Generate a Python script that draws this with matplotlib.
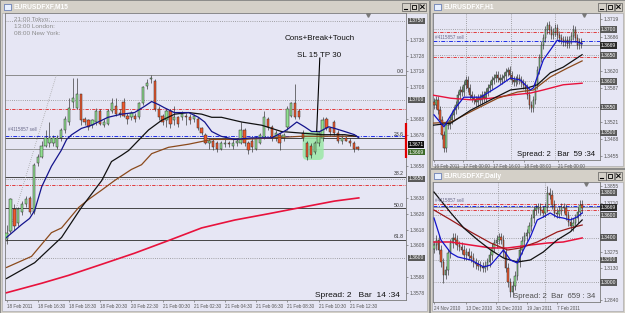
import numpy as np
import matplotlib
matplotlib.use('Agg')
import matplotlib.pyplot as plt
import matplotlib.transforms as mtrans
from matplotlib.patches import Rectangle, FancyBboxPatch
from matplotlib.colors import LinearSegmentedColormap

plt.rcParams['font.family'] = ['Liberation Sans', 'DejaVu Sans']

# ===================== DATA =====================
# ---- M15 chart (main window) ----
m15_open = [1.3612,1.3617,1.3631,1.3622,1.3629,1.3634,1.3638,1.3629,1.3660,1.3664,
            1.3671,1.3673,1.3673,1.3670,1.3676,1.3681,1.3686,1.3699,1.3695,1.3704,
            1.3688,1.3687,1.3684,1.3686,1.3693,1.3684,1.3685,1.3693,1.3696,1.3692,
            1.3699,1.3690,1.3689,1.3690,1.3689,1.3698,1.3709,1.3713,1.3712,1.3694,
            1.3690,1.3687,1.3693,1.3687,1.3689,1.3689,1.3690,1.3689,1.3688,1.3688,
            1.3682,1.3678,1.3673,1.3674,1.3673,1.3669,1.3672,1.3673,1.3671,1.3673,
            1.3673,1.3681,1.3673,1.3674,1.3669,1.3673,1.3676,1.3688,1.3683,1.3676,
            1.3678,1.3676,1.3683,1.3690,1.3698,1.3693,1.3679,1.3673,1.3671,1.3667,
            1.3673,1.3676,1.3688,1.3682,1.3686,1.3679,1.3674,1.3676,1.3674,1.3673,
            1.3670]
m15_high = [1.3621,1.3638,1.3634,1.3632,1.3636,1.3639,1.3639,1.3660,1.3666,1.3674,
            1.3681,1.3686,1.3678,1.3678,1.3682,1.3690,1.3701,1.3714,1.3714,1.3704,
            1.3689,1.3688,1.3688,1.3695,1.3694,1.3688,1.3694,1.3701,1.3701,1.3694,
            1.3701,1.3692,1.3693,1.3692,1.3699,1.3709,1.3713,1.3716,1.3713,1.3696,
            1.3691,1.3694,1.3694,1.3696,1.3690,1.3693,1.3692,1.3691,1.3691,1.3689,
            1.3683,1.3679,1.3676,1.3676,1.3674,1.3674,1.3676,1.3674,1.3676,1.3676,
            1.3686,1.3682,1.3674,1.3676,1.3677,1.3679,1.3693,1.3689,1.3684,1.3681,
            1.3679,1.3679,1.3696,1.3699,1.3710,1.3694,1.3681,1.3674,1.3673,1.3674,
            1.3680,1.3689,1.3689,1.3683,1.3687,1.3681,1.3678,1.3677,1.3676,1.3674,
            1.3671]
m15_low = [1.3609,1.3616,1.3618,1.3620,1.3627,1.3632,1.3628,1.3628,1.3658,1.3663,
           1.3670,1.3670,1.3671,1.3669,1.3674,1.3679,1.3684,1.3695,1.3694,1.3684,
           1.3684,1.3681,1.3682,1.3684,1.3684,1.3683,1.3684,1.3692,1.3690,1.3689,
           1.3689,1.3685,1.3687,1.3686,1.3688,1.3697,1.3707,1.3711,1.3693,1.3687,
           1.3684,1.3683,1.3682,1.3684,1.3683,1.3687,1.3684,1.3685,1.3686,1.3681,
           1.3678,1.3672,1.3669,1.3668,1.3667,1.3668,1.3670,1.3670,1.3669,1.3671,
           1.3672,1.3671,1.3666,1.3667,1.3668,1.3672,1.3675,1.3681,1.3674,1.3674,
           1.3668,1.3674,1.3681,1.3689,1.3688,1.3688,1.3674,1.3662,1.3663,1.3666,
           1.3671,1.3674,1.3681,1.3678,1.3678,1.3673,1.3672,1.3674,1.3671,1.3667,
           1.3668]
m15_close = [1.3616,1.3637,1.3620,1.3631,1.3634,1.3637,1.3629,1.3659,1.3664,1.3671,
             1.3676,1.3676,1.3676,1.3676,1.3681,1.3688,1.3695,1.3701,1.3704,1.3687,
             1.3686,1.3683,1.3687,1.3693,1.3685,1.3686,1.3693,1.3698,1.3691,1.3691,
             1.3690,1.3688,1.3692,1.3688,1.3698,1.3708,1.3711,1.3714,1.3694,1.3689,
             1.3686,1.3693,1.3685,1.3689,1.3685,1.3691,1.3689,1.3687,1.3690,1.3682,
             1.3679,1.3673,1.3674,1.3670,1.3669,1.3673,1.3673,1.3672,1.3673,1.3674,
             1.3681,1.3673,1.3668,1.3670,1.3676,1.3678,1.3689,1.3683,1.3676,1.3679,
             1.3673,1.3678,1.3694,1.3698,1.3689,1.3689,1.3676,1.3664,1.3665,1.3673,
             1.3679,1.3687,1.3682,1.3680,1.3679,1.3674,1.3676,1.3674,1.3673,1.3669,
             1.3669]
m15_blue_idx = [0,3.8,5.9,7.2,9,11.5,14,15.4,16.7,19.2,21.8,26,29.5,32.8,35.4,37.2,39,40.5,43,46.7,
                49.2,50.8,52.6,55,58.5,62.8,68,71.8,74.4,76.4,78.2,80.3,82.6,84.1,86.7,89.2,90.3]
m15_blue = [1.3613,1.3621,1.3625,1.3630,1.3645,1.3658,1.3668,1.3675,1.3678,1.3682,
            1.3684,1.3689,1.3691,1.3692,1.3696,1.3699,1.3697,1.3695,1.3692,1.3692,
            1.3689,1.3686,1.3680,1.3677,1.3675,1.3676,1.3676,1.3681,1.3686,1.3683,
            1.3680,1.3680,1.3683,1.3682,1.3680,1.3678,1.3676]
m15_black_idx = [0,7.2,14.1,19.2,24.4,26.9,29.5,31.3,36.4,39.7,43.1,46.7,50,52.6,55.1,60.3,65.4,70.5,75.6,80.8,86.7,89.7]
m15_black = [1.3587,1.3597,1.3613,1.3632,1.3649,1.3661,1.3665,1.3668,1.3681,1.3687,1.3691,
             1.3692,1.3691,1.3689,1.3689,1.3686,1.3684,1.3680,1.3679,1.3678,1.3678,1.3677]
m15_brown_idx = [0,6.4,11.5,14.1,18.5,21,24.4,27.7,32,34.6,37.2,41.5,46.7,52.6,60.3,68,75.6,83.3,89.7]
m15_brown = [1.3594,1.3601,1.3616,1.3619,1.3632,1.3637,1.3643,1.3649,1.3656,1.3659,
             1.3666,1.3670,1.3672,1.3675,1.3675,1.3676,1.3677,1.3677,1.3677]
m15_red_idx = [0,9,15.9,24.4,32.8,41.5,50,58.5,67.2,75.6,84.1,90.3]
m15_red = [1.3578,1.3584,1.3589,1.3596,1.3603,1.3611,1.3619,1.3624,1.3628,1.3632,1.3636,1.3638]
m15_yticks = [1.3578,1.3588,1.3608,1.3618,1.3628,1.3638,1.3658,
              1.3678,1.3688,1.3708,1.3718,1.3728,1.3738]
m15_xtick_pos = [0, 8, 16, 24, 32, 40, 48, 56, 64, 72, 80, 88]
m15_xtick_lab = ['18 Feb 2011', '18 Feb 16:30', '18 Feb 18:30', '18 Feb 20:30', '20 Feb 22:30',
                 '21 Feb 00:30', '21 Feb 02:30', '21 Feb 04:30', '21 Feb 06:30', '21 Feb 08:30',
                 '21 Feb 10:30', '21 Feb 12:30']
fib_top, fib_bottom = 1.3716, 1.3547
fib_levels = [0.0, 23.6, 38.2, 50.0, 61.8]
round_levels_m15 = [1.3750, 1.3700, 1.3650, 1.3600]
red_levels = [1.3694, 1.3646]
order_price = 1.3677
bid_price = 1.3669
sessions = ['21:00 Tokyo:', '13:00 London:', '08:00 New York:']

# ---- H1 chart ----
h1_open = [1.3560,1.3554,1.3564,1.3544,1.3525,1.3496,1.3471,1.3515,1.3515,1.3525,
           1.3535,1.3544,1.3554,1.3573,1.3583,1.3579,1.3593,1.3602,1.3587,1.3573,
           1.3567,1.3564,1.3560,1.3567,1.3564,1.3573,1.3567,1.3579,1.3587,1.3593,
           1.3602,1.3606,1.3612,1.3606,1.3602,1.3606,1.3610,1.3618,1.3622,1.3612,
           1.3602,1.3598,1.3602,1.3606,1.3602,1.3597,1.3593,1.3587,1.3573,1.3554,
           1.3548,1.3564,1.3593,1.3622,1.3645,1.3670,1.3683,1.3699,1.3708,1.3699,
           1.3689,1.3695,1.3703,1.3689,1.3683,1.3679,1.3675,1.3679,1.3672,1.3679,
           1.3687,1.3699,1.3683,1.3670,1.3675]
h1_high = [1.3568,1.3572,1.3572,1.3552,1.3533,1.3504,1.3523,1.3523,1.3533,1.3543,
           1.3552,1.3562,1.3581,1.3591,1.3591,1.3601,1.3610,1.3610,1.3595,1.3581,
           1.3575,1.3572,1.3575,1.3575,1.3581,1.3581,1.3587,1.3595,1.3601,1.3610,
           1.3614,1.3620,1.3620,1.3614,1.3614,1.3618,1.3626,1.3627,1.3630,1.3620,
           1.3610,1.3610,1.3614,1.3614,1.3610,1.3605,1.3601,1.3595,1.3581,1.3562,
           1.3572,1.3601,1.3630,1.3653,1.3678,1.3691,1.3707,1.3714,1.3716,1.3707,
           1.3703,1.3711,1.3711,1.3697,1.3691,1.3687,1.3687,1.3687,1.3687,1.3695,
           1.3708,1.3707,1.3691,1.3683,1.3683]
h1_low = [1.3546,1.3546,1.3536,1.3517,1.3488,1.3463,1.3463,1.3507,1.3507,1.3517,
          1.3527,1.3536,1.3546,1.3565,1.3571,1.3571,1.3585,1.3579,1.3565,1.3559,
          1.3556,1.3552,1.3552,1.3556,1.3556,1.3559,1.3559,1.3571,1.3579,1.3585,
          1.3594,1.3598,1.3598,1.3594,1.3594,1.3598,1.3602,1.3610,1.3604,1.3594,
          1.3590,1.3590,1.3594,1.3594,1.3589,1.3585,1.3579,1.3565,1.3546,1.3540,
          1.3540,1.3556,1.3585,1.3614,1.3637,1.3662,1.3675,1.3691,1.3691,1.3681,
          1.3681,1.3687,1.3681,1.3675,1.3671,1.3667,1.3667,1.3664,1.3664,1.3671,
          1.3679,1.3675,1.3662,1.3662,1.3664]
h1_close = [1.3554,1.3564,1.3544,1.3525,1.3496,1.3471,1.3515,1.3515,1.3525,1.3535,
            1.3544,1.3554,1.3573,1.3583,1.3579,1.3593,1.3602,1.3587,1.3573,1.3567,
            1.3564,1.3560,1.3567,1.3564,1.3573,1.3567,1.3579,1.3587,1.3593,1.3602,
            1.3606,1.3612,1.3606,1.3602,1.3606,1.3610,1.3618,1.3622,1.3612,1.3602,
            1.3598,1.3602,1.3606,1.3602,1.3597,1.3593,1.3587,1.3573,1.3554,1.3548,
            1.3564,1.3593,1.3622,1.3645,1.3670,1.3683,1.3699,1.3708,1.3699,1.3689,
            1.3695,1.3703,1.3689,1.3683,1.3679,1.3675,1.3679,1.3672,1.3679,1.3687,
            1.3699,1.3683,1.3670,1.3675,1.3672]
h1_blue_idx = [0,5,10,15,23.5,32,38.5,43.5,48.5,50,55,62,65,72,74.5]
h1_blue = [1.3535,1.3512,1.3544,1.3569,1.3569,1.3589,1.3606,1.3602,1.3583,1.3587,1.3641,1.3679,1.3676,1.3676,1.3672]
h1_black_idx = [-0.5,8.5,18.5,28.5,38.5,47,52,58.5,65,74.5]
h1_black = [1.3515,1.3519,1.3544,1.3564,1.3583,1.3587,1.3593,1.3616,1.3627,1.3651]
h1_brown_idx = [-0.5,8.5,20,32,42,50,58.5,67,74.5]
h1_brown = [1.3519,1.3521,1.3544,1.3567,1.3579,1.3583,1.3608,1.3625,1.3639]
h1_red_idx = [-0.5,8.5,18.5,28.5,38.5,48.5,55,65,74.5]
h1_red = [1.3573,1.3567,1.3564,1.3567,1.3573,1.3577,1.3583,1.3593,1.3596]
h1_yticks = [1.3455,1.3488,1.3521,1.3587,1.3620,1.3686,1.3719]
h1_xtick_pos = [0, 14.5, 29.5, 45.5, 62.5]
h1_xtick_lab = ['16 Feb 2011', '17 Feb 00:00', '17 Feb 16:00', '18 Feb 08:00', '21 Feb 00:00']
round_levels_h1 = [1.3700, 1.3650, 1.3600, 1.3550, 1.3500]

# ---- Daily chart ----
d_open = [1.3300,1.3333,1.3378,1.3289,1.3182,1.3067,1.3111,1.3262,1.3351,1.3396,
          1.3378,1.3333,1.3316,1.3289,1.3244,1.3271,1.3236,1.3218,1.3182,1.3164,
          1.3147,1.3138,1.3129,1.3147,1.3182,1.3244,1.3307,1.3351,1.3378,1.3404,
          1.3378,1.3271,1.3129,1.3004,1.2915,1.2969,1.3058,1.3182,1.3289,1.3369,
          1.3413,1.3440,1.3502,1.3573,1.3644,1.3662,1.3671,1.3644,1.3618,1.3671,
          1.3796,1.3778,1.3689,1.3618,1.3609,1.3636,1.3671,1.3662,1.3600,1.3538,
          1.3502,1.3529,1.3573,1.3627,1.3689]
d_high = [1.3373,1.3418,1.3418,1.3329,1.3222,1.3151,1.3302,1.3391,1.3436,1.3436,
          1.3418,1.3373,1.3356,1.3329,1.3311,1.3311,1.3276,1.3258,1.3222,1.3204,
          1.3187,1.3178,1.3187,1.3222,1.3284,1.3347,1.3391,1.3418,1.3444,1.3444,
          1.3418,1.3311,1.3169,1.3044,1.3009,1.3098,1.3222,1.3329,1.3409,1.3453,
          1.3480,1.3542,1.3613,1.3684,1.3702,1.3711,1.3711,1.3684,1.3711,1.3858,
          1.3836,1.3818,1.3729,1.3658,1.3676,1.3711,1.3711,1.3702,1.3640,1.3578,
          1.3569,1.3613,1.3667,1.3729,1.3729]
d_low = [1.3260,1.3293,1.3249,1.3142,1.2996,1.3027,1.3071,1.3222,1.3311,1.3338,
         1.3293,1.3276,1.3249,1.3204,1.3204,1.3196,1.3178,1.3142,1.3124,1.3107,
         1.3098,1.3089,1.3089,1.3107,1.3142,1.3204,1.3267,1.3311,1.3338,1.3338,
         1.3231,1.3089,1.2964,1.2871,1.2875,1.2929,1.3018,1.3142,1.3249,1.3329,
         1.3373,1.3400,1.3462,1.3533,1.3604,1.3622,1.3604,1.3578,1.3578,1.3631,
         1.3738,1.3649,1.3578,1.3569,1.3569,1.3596,1.3622,1.3560,1.3498,1.3462,
         1.3462,1.3489,1.3533,1.3587,1.3622]
d_close = [1.3333,1.3378,1.3289,1.3182,1.3067,1.3111,1.3262,1.3351,1.3396,1.3378,
           1.3333,1.3316,1.3289,1.3244,1.3271,1.3236,1.3218,1.3182,1.3164,1.3147,
           1.3138,1.3129,1.3147,1.3182,1.3244,1.3307,1.3351,1.3378,1.3404,1.3378,
           1.3271,1.3129,1.3004,1.2915,1.2969,1.3058,1.3182,1.3289,1.3369,1.3413,
           1.3440,1.3502,1.3573,1.3644,1.3662,1.3671,1.3644,1.3618,1.3671,1.3796,
           1.3778,1.3689,1.3618,1.3609,1.3636,1.3671,1.3662,1.3600,1.3538,1.3502,
           1.3529,1.3573,1.3627,1.3689,1.3662]
d_blue_idx = [0,3,7.3,10.3,15.9,21.5,24.5,27.5,30,33,36,38.6,41.6,44.6,47.2,50.2,53.2,55.8,58.8,61.8,64]
d_blue = [1.3573,1.3378,1.3262,1.3227,1.3200,1.3138,1.3156,1.3227,1.3289,1.3200,1.3173,
          1.3289,1.3404,1.3556,1.3582,1.3618,1.3582,1.3573,1.3556,1.3582,1.3618]
d_black_idx = [0,7.3,12.9,18.9,24.5,30,36,41.6,47.2,53.2,58.8,64]
d_black = [1.3804,1.3618,1.3484,1.3378,1.3289,1.3218,1.3182,1.3200,1.3271,1.3378,1.3449,1.3556]
d_maroon_idx = [0,7.3,15.9,24.5,31.8,37.3,44.6,53.2,58.8,64]
d_maroon = [1.3644,1.3556,1.3449,1.3351,1.3289,1.3307,1.3360,1.3449,1.3484,1.3511]
d_red_idx = [0,7.3,15.9,24.5,31.8,41.6,49,55.8,64]
d_red = [1.3360,1.3360,1.3333,1.3307,1.3307,1.3333,1.3351,1.3360,1.3396]
d_yticks = [1.2840,1.3130,1.3275,1.3710,1.3855]
d_xtick_pos = [0, 13.7, 26.6, 40.3, 53.2]
d_xtick_lab = ['24 Nov 2010', '13 Dec 2010', '31 Dec 2010', '19 Jan 2011', '7 Feb 2011']
round_levels_d = [1.3800, 1.3600, 1.3400, 1.3200, 1.3000]

# ===================== FIGURE =====================
W, H = 625, 313
fig = plt.figure(figsize=(W / 100, H / 100), dpi=100)
fig.patch.set_facecolor('#d4d0c8')

PLOT_BG = '#e6e6f4'
UP, DN, EDGE = '#90e090', '#f0582c', '#2a2a2a'


def frac(x0, y0, x1, y1):
    return [x0 / W, 1 - y1 / H, (x1 - x0) / W, (y1 - y0) / H]


bg = fig.add_axes([0, 0, 1, 1])
bg.axis('off')
title_cmap = LinearSegmentedColormap.from_list('tb', ['#0a246a', '#a6caf0'])
grad = np.linspace(0, 1, 256)[None, :]


def window(x0, y0, x1, y1, title):
    bg.add_patch(Rectangle((x0, y0), x1 - x0, y1 - y0, fc='#d4d0c8', ec='#808080', lw=0.6))
    bg.add_patch(Rectangle((x0 + 2, y0 + 13), x1 - x0 - 4, y1 - y0 - 15, fc=PLOT_BG, ec='#a0a0a0', lw=0.4))
    bg.imshow(grad, extent=[x0 + 2, x1 - 2, y0 + 12, y0 + 2], aspect='auto', cmap=title_cmap)
    bg.add_patch(Rectangle((x0 + 4, y0 + 3.5), 7, 6.5, fc='#e8f0ff', ec='#3050a0', lw=0.4))
    bg.text(x0 + 14, y0 + 7.4, title, color='white', fontsize=4.8, fontweight='bold', va='center', ha='left')
    for k in range(3):
        bx = x1 - 27 + k * 8.3
        by = y0 + 3
        bg.add_patch(Rectangle((bx, by), 7.6, 7.6, fc='#d4d0c8', ec='#404040', lw=0.4))
        if k == 0:
            bg.plot([bx + 2, bx + 5], [by + 5.6, by + 5.6], color='black', lw=0.8)
        elif k == 1:
            bg.add_patch(Rectangle((bx + 1.8, by + 1.8), 4, 4, fc='none', ec='black', lw=0.6))
        else:
            bg.plot([bx + 2, bx + 5.6], [by + 2, by + 5.6], color='black', lw=0.7)
            bg.plot([bx + 2, bx + 5.6], [by + 5.6, by + 2], color='black', lw=0.7)


window(0, 0, 429, 313, 'EURUSDFXF,M15')
window(430, 0, 625, 168, 'EURUSDFXF,H1')
window(430, 169, 625, 313, 'EURUSDFXF,Daily')
bg.set_xlim(0, W)
bg.set_ylim(H, 0)


def chart_ax(x0, y0, x1, y1, xlim, ylim, yticks, xpos, xlab):
    ax = fig.add_axes(frac(x0, y0, x1, y1))
    ax.set_facecolor(PLOT_BG)
    ax.set_xlim(*xlim)
    ax.set_ylim(*ylim)
    for s in ax.spines.values():
        s.set_color('#7a7a7a')
        s.set_linewidth(0.6)
    ax.yaxis.tick_right()
    ax.tick_params(axis='both', length=1.5, width=0.4, colors='#555555', pad=1.2)
    ax.tick_params(axis='y', labelsize=3.6)
    ax.tick_params(axis='x', labelsize=3.3)
    ax.set_yticks(yticks)
    ax.set_yticklabels([f'{v:.4f}' for v in yticks])
    ax.set_xticks(xpos)
    ax.set_xticklabels(xlab, ha='left')
    return ax


def candles(ax, o, h, l, c, width):
    o, h, l, c = map(np.asarray, (o, h, l, c))
    x = np.arange(len(o))
    ax.vlines(x, l, h, color=EDGE, lw=0.45, zorder=3)
    bull = c >= o
    ax.bar(x[bull], (c - o)[bull], bottom=o[bull], width=width, color=UP, edgecolor=EDGE, lw=0.35, zorder=4)
    ax.bar(x[~bull], (o - c)[~bull], bottom=c[~bull], width=width, color=DN, edgecolor=EDGE, lw=0.35, zorder=4)


def levels(ax, rounds, vlines=()):
    for v in rounds:
        ax.axhline(v, color='#8c8c8c', lw=0.6, ls=(0, (1, 1.6)), zorder=1)
    for v in vlines:
        ax.axvline(v, color='#8c8c8c', lw=0.6, ls=(0, (1, 1.6)), zorder=1)
    for v in red_levels:
        ax.axhline(v, color='#e02020', lw=0.6, ls=(0, (4, 1.5, 1, 1.5)), zorder=2)
    ax.axhline(order_price, color='#1f2fe8', lw=0.7, ls=(0, (4, 1.5, 1, 1.5)), zorder=2)
    ax.axhline(bid_price, color='#8a8a8a', lw=0.6, zorder=2)


def boxlabel(ax, price, text, fc='#5a5a5a', tc='white'):
    tr = mtrans.blended_transform_factory(ax.transAxes, ax.transData)
    ax.text(1.006, price, text, transform=tr, ha='left', va='center', fontsize=3.6, color=tc,
            clip_on=False, zorder=10,
            bbox=dict(boxstyle='square,pad=0.18', fc=fc, ec='none'))


# ---------- main M15 chart ----------
axm = chart_ax(5, 13, 406, 300, (-0.4, 102.4), (1.35734, 1.37550), m15_yticks, m15_xtick_pos, m15_xtick_lab)
levels(axm, round_levels_m15)
for lv in fib_levels:
    p = fib_top - (fib_top - fib_bottom) * lv / 100.0
    axm.axhline(p, color='#8c8c8c' if lv == 0 else '#444444', lw=0.7, zorder=2)
    axm.text(101.9, p + 0.00004, f'{lv:.1f}', ha='right', va='bottom', fontsize=3.7, color='#303030', zorder=6)
axm.plot([-7.8, 12.8], [fib_bottom, fib_top], color='#a8a8a8', lw=0.6, ls=(0, (1, 1.5)), zorder=2)

axm.add_patch(FancyBboxPatch((75.9, 1.36620), 5.4, 0.00177,
                             boxstyle='round,pad=0,rounding_size=1.2', mutation_aspect=0.000247,
                             fc='#9be8a6', ec='none', alpha=0.85, zorder=2.5))
candles(axm, m15_open, m15_high, m15_low, m15_close, 0.6)
axm.plot(m15_red_idx, m15_red, color='#e8123c', lw=1.2, zorder=5)
axm.plot(m15_brown_idx, m15_brown, color='#8b4a1c', lw=0.9, zorder=5)
axm.plot(m15_black_idx, m15_black, color='#111111', lw=0.9, zorder=5)
axm.plot(m15_blue_idx, m15_blue, color='#14148c', lw=0.9, zorder=5)

axm.plot([80.3, 79.5], [1.37265, 1.3680], color='black', lw=0.8, zorder=6)
axm.text(80.2, 1.37391, 'Cons+Break+Touch', ha='center', va='center', fontsize=5.8, color='#101010', zorder=6)
axm.text(80.2, 1.37284, 'SL 15 TP 30', ha='center', va='center', fontsize=5.8, color='#101010', zorder=6)
for k, s in enumerate(sessions):
    axm.text(1.8, 1.37506 - k * 0.00044, s, ha='left', va='center', fontsize=4.6, color='#8c8c8c', zorder=6)
axm.text(0.3, 1.36800, '#4115857 sell', ha='left', va='bottom', fontsize=3.3, color='#6a6a8a', zorder=6)
axm.plot([92.6], [1.37535], marker='v', ms=2.6, color='#7a7a7a', zorder=6)
axm.text(0.985, 0.014, 'Spread: 2   Bar  14 :34', transform=axm.transAxes, ha='right', va='center',
         fontsize=6, color='#101010', zorder=6)
trm = mtrans.blended_transform_factory(axm.transAxes, axm.transData)
axm.plot([1.0, 1.0], [1.36632, 1.36854], transform=trm, color='#e00000', lw=1.6, clip_on=False,
         solid_capstyle='butt', zorder=9)
for v in round_levels_m15:
    boxlabel(axm, v, f'{v:.4f}')
boxlabel(axm, 1.3672, '1.3671', fc='#101010')
boxlabel(axm, 1.3667, '1.3669', fc='#3d6b2a')

# ---------- H1 chart ----------
axh = chart_ax(433, 13, 600, 160, (-0.5, 83.5), (1.34479, 1.37314), h1_yticks, h1_xtick_pos, h1_xtick_lab)
levels(axh, round_levels_h1, vlines=(16, 38.5, 61))
candles(axh, h1_open, h1_high, h1_low, h1_close, 0.6)
axh.plot(h1_red_idx, h1_red, color='#e8123c', lw=1.0, zorder=5)
axh.plot(h1_brown_idx, h1_brown, color='#8b4a1c', lw=0.9, zorder=5)
axh.plot(h1_black_idx, h1_black, color='#111111', lw=0.9, zorder=5)
axh.plot(h1_blue_idx, h1_blue, color='#1414c8', lw=0.9, zorder=5)
axh.text(0.5, 1.36793, '#4115857 sell', ha='left', va='bottom', fontsize=3.3, color='#6a6a8a', zorder=6)
axh.plot([75.5], [1.3728], marker='v', ms=2.6, color='#7a7a7a', zorder=6)
axh.text(0.97, 0.035, 'Spread: 2   Bar  59 :34', transform=axh.transAxes, ha='right', va='center',
         fontsize=5.6, color='#101010', zorder=6)
for v in round_levels_h1:
    boxlabel(axh, v, f'{v:.4f}')
boxlabel(axh, bid_price, '1.3669', fc='#2a2a2a')

# ---------- Daily chart ----------
axd = chart_ax(433, 182, 600, 302, (-0.43, 71.7), (1.28266, 1.38934), d_yticks, d_xtick_pos, d_xtick_lab)
levels(axd, round_levels_d, vlines=(27.5, 48))
candles(axd, d_open, d_high, d_low, d_close, 0.6)
axd.plot(d_red_idx, d_red, color='#e8123c', lw=1.1, zorder=5)
axd.plot(d_maroon_idx, d_maroon, color='#9a1a1a', lw=0.9, zorder=5)
axd.plot(d_black_idx, d_black, color='#111111', lw=0.9, zorder=5)
axd.plot(d_blue_idx, d_blue, color='#1414c8', lw=0.9, zorder=5)
axd.text(0.5, 1.3703, '#4115857 sell', ha='left', va='bottom', fontsize=3.3, color='#6a6a8a', zorder=6)
axd.plot([65.5], [1.3872], marker='v', ms=2.6, color='#7a7a7a', zorder=6)
axd.text(0.97, 0.05, 'Spread: 2  Bar  659 : 34', transform=axd.transAxes, ha='right', va='center',
         fontsize=5.6, color='#505050', zorder=6)
for v in round_levels_d:
    boxlabel(axd, v, f'{v:.4f}')
boxlabel(axd, bid_price, '1.3669', fc='#2a2a2a')

fig.savefig('out.png', dpi=100, facecolor=fig.get_facecolor())
